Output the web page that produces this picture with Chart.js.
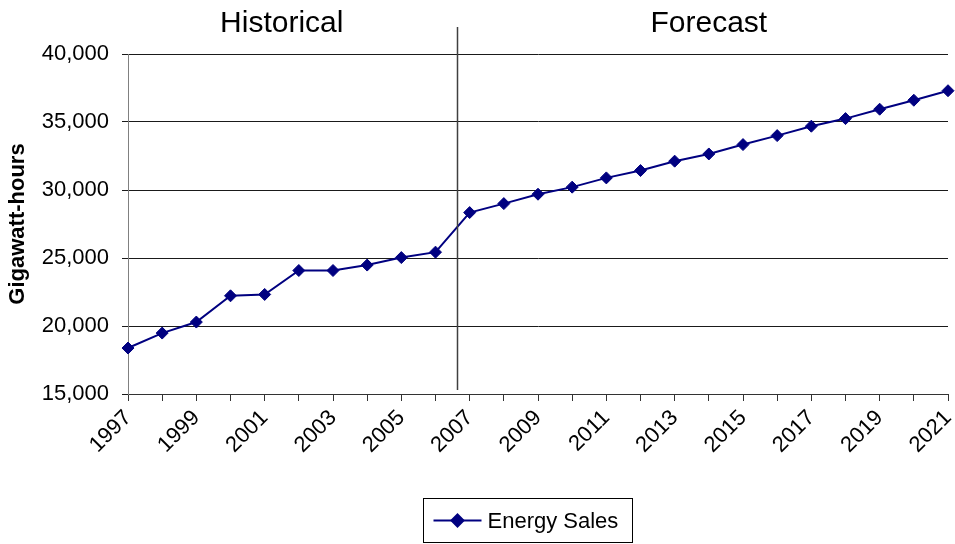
<!DOCTYPE html>
<html lang="en">
<head>
    <meta charset="UTF-8">
    <title>Energy Sales</title>
    <style>
        html, body { margin: 0; padding: 0; background: #fff; }
        #salesChart { display: block; }
    </style>
</head>
<body>
    <canvas id="salesChart" width="955" height="544"></canvas>

    <script src="https://cdn.jsdelivr.net/npm/chart.js"></script>
    <script>
        // Annual energy sales, GWh (1997-2006 actual, 2007 onward forecast)
        const years = ['1997', '1998', '1999', '2000', '2001', '2002', '2003', '2004', '2005', '2006',
                       '2007', '2008', '2009', '2010', '2011', '2012', '2013', '2014', '2015', '2016',
                       '2017', '2018', '2019', '2020', '2021'];
        const energySales = [18380, 19480, 20290, 22220, 22320, 24080, 24080, 24480, 25030, 25430,
                             28340, 29000, 29690, 30210, 30890, 31430, 32120, 32650, 33340, 34000,
                             34690, 35250, 35940, 36600, 37300];
        const periodNames = ['Historical', 'Forecast'];
        const yMin = 15000;
        const yMax = 40000;
        const yStep = 5000;

        const FONT = "'Liberation Sans', Arial, sans-serif";
        const NAVY = '#000080';

        // vertical rule between history and forecast, plus the two period headings
        const periodPlugin = {
            id: 'periods',
            afterDatasetsDraw(chart, args, opts) {
                const ctx = chart.ctx;
                const x = chart.scales.x;
                const area = chart.chartArea;
                const divX = Math.round(x.getPixelForValue(opts.dividerAt)) + 0.5;
                ctx.save();
                ctx.strokeStyle = '#404040';
                ctx.lineWidth = 1.5;
                ctx.beginPath();
                ctx.moveTo(divX, 27);
                ctx.lineTo(divX, area.bottom - 4);
                ctx.stroke();

                ctx.fillStyle = '#000';
                ctx.font = '30px ' + FONT;
                ctx.textAlign = 'center';
                ctx.textBaseline = 'alphabetic';
                ctx.fillText(periodNames[0], x.getPixelForValue(opts.histCenter), 32);
                ctx.fillText(periodNames[1], x.getPixelForValue(opts.foreCenter), 32);
                ctx.restore();
            }
        };

        // boxed legend under the axis: line with diamond marker and series name
        const boxLegendPlugin = {
            id: 'boxLegend',
            afterDraw(chart) {
                const ctx = chart.ctx;
                const ds = chart.data.datasets[0];
                const box = { left: 423.5, top: 498.5, w: 209, h: 44 };
                const cy = box.top + box.h / 2;
                ctx.save();
                ctx.strokeStyle = '#000';
                ctx.lineWidth = 1;
                ctx.strokeRect(box.left, box.top, box.w, box.h);

                ctx.strokeStyle = ds.borderColor;
                ctx.lineWidth = 2;
                ctx.beginPath();
                ctx.moveTo(box.left + 10, cy);
                ctx.lineTo(box.left + 58, cy);
                ctx.stroke();
                Chart.helpers.drawPoint(ctx, {
                    pointStyle: 'rectRot', radius: 6, borderWidth: 1
                }, box.left + 34, cy);
                ctx.fillStyle = ds.pointBackgroundColor;
                ctx.fill();

                ctx.fillStyle = '#000';
                ctx.font = '22px ' + FONT;
                ctx.textAlign = 'left';
                ctx.textBaseline = 'middle';
                ctx.fillText(ds.label, box.left + 64, cy + 1);
                ctx.restore();
            }
        };

        new Chart(document.getElementById('salesChart'), {
            type: 'line',
            data: {
                labels: years,
                datasets: [{
                    label: 'Energy Sales',
                    data: energySales,
                    borderColor: NAVY,
                    backgroundColor: NAVY,
                    borderWidth: 2,
                    tension: 0,
                    pointStyle: 'rectRot',
                    pointRadius: 6,
                    pointBorderWidth: 1,
                    pointBackgroundColor: NAVY,
                    pointBorderColor: NAVY,
                    clip: false
                }]
            },
            options: {
                responsive: false,
                animation: false,
                layout: { padding: { top: 54, right: 3, left: 0, bottom: 0 } },
                plugins: {
                    legend: { display: false },
                    tooltip: { enabled: false },
                    periods: { dividerAt: 9.64, histCenter: 4.5, foreCenter: 17 }
                },
                scales: {
                    x: {
                        offset: false,
                        grid: { drawOnChartArea: false, drawTicks: true, tickLength: 7, color: '#333' },
                        border: { color: '#333' },
                        ticks: {
                            autoSkip: false,
                            maxRotation: 45,
                            minRotation: 45,
                            padding: 4,
                            color: '#000',
                            font: { family: FONT, size: 22 },
                            callback: (val, i) => (i % 2 === 0 ? years[i] : '')
                        },
                        afterFit(scale) {
                            scale.height = 150;
                            scale.paddingLeft = 0;
                            scale.paddingRight = 0;
                        }
                    },
                    y: {
                        min: yMin,
                        max: yMax,
                        grid: { color: '#1a1a1a', lineWidth: 1, tickLength: 6 },
                        border: { color: '#808080' },
                        ticks: {
                            stepSize: yStep,
                            padding: 13,
                            color: '#000',
                            font: { family: FONT, size: 22 },
                            callback: v => v.toLocaleString('en-US')
                        },
                        title: {
                            display: true,
                            text: 'Gigawatt-hours',
                            color: '#000',
                            font: { family: FONT, size: 22, weight: 'bold' },
                            padding: { top: 5, bottom: 0 }
                        },
                        afterFit(scale) { scale.width = 128; }
                    }
                }
            },
            plugins: [periodPlugin, boxLegendPlugin]
        });
    </script>
</body>
</html>
